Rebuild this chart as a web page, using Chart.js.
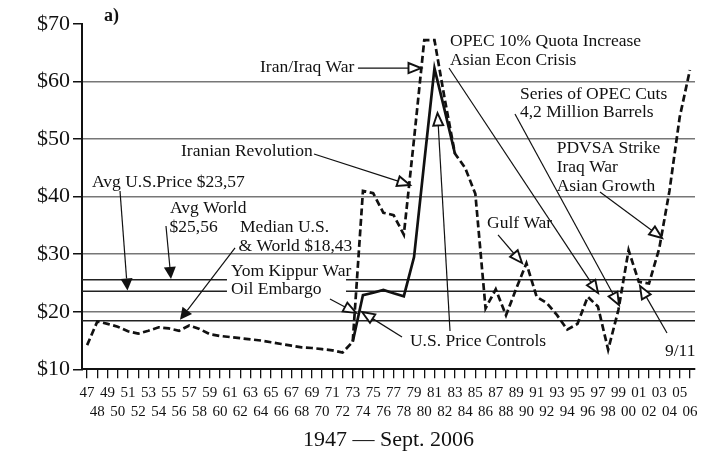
<!DOCTYPE html>
<html>
<head>
<meta charset="utf-8">
<script src="https://cdn.jsdelivr.net/npm/chart.js@4.4.1/dist/chart.umd.min.js"></script>
<style>
  html, body { margin: 0; padding: 0; background: #fff; }
  canvas { display: block; }
</style>
</head>
<body>
<canvas id="c" width="703" height="451" style="width:703px;height:451px"></canvas>
<script>
// ---------------- DATA ----------------
const yearLabels = ['47','48','49','50','51','52','53','54','55','56',
                    '57','58','59','60','61','62','63','64','65','66',
                    '67','68','69','70','71','72','73','74','75','76',
                    '77','78','79','80','81','82','83','84','85','86',
                    '87','88','89','90','91','92','93','94','95','96',
                    '97','98','99','00','01','02','03','04','05','06'];

// World price (dashed line), dollars
const worldPrice = [14.2, 18.3, 17.9, 17.4, 16.6, 16.2, 16.7, 17.3, 17.1, 16.7,
                    17.6, 17.0, 16.1, 15.8, 15.6, 15.4, 15.2, 15.0, 14.7, 14.4,
                    14.1, 13.8, 13.7, 13.5, 13.3, 12.9, 14.8, 41.0, 40.6, 37.2,
                    36.8, 33.4, 50.0, 67.2, 67.2, 57.0, 47.5, 45.0, 40.5, 20.6,
                    23.9, 19.4, 24.0, 28.4, 22.6, 21.5, 19.4, 16.9, 17.9, 22.6,
                    20.9, 13.4, 20.3, 30.7, 25.2, 24.9, 31.0, 41.0, 53.8, 62.0];

// U.S. price (solid line) where it departs from the world price
const usPrice = [null, null, null, null, null, null, null, null, null, null,
                 null, null, null, null, null, null, null, null, null, null,
                 null, null, null, null, null, null, 14.8, 22.9, 23.3, 23.8,
                 23.2, 22.7, 29.5, 46.0, 62.3, 55.0, 47.5, null, null, null,
                 null, null, null, null, null, null, null, null, null, null,
                 null, null, null, null, null, null, null, null, null, null];

// Avg World $25,56 ; Avg U.S. $23,57 ; Median $18,43
const referenceLines = [25.56, 23.57, 18.43];

const yMin = 10, yMax = 70, yStep = 10;
const xTitle = '1947 \u2014 Sept. 2006';
const panelLabel = 'a)';

// ---------------- ANNOTATIONS (in year-index / price units) ----------------
const noteTexts = [
  { t: 'Iran/Iraq War',            i: 16.92, v: 62.40 },
  { t: 'OPEC 10% Quota Increase',  i: 35.52, v: 67.05 },
  { t: 'Asian Econ Crisis',        i: 35.52, v: 63.75 },
  { t: 'Series of OPEC Cuts',      i: 42.37, v: 57.78 },
  { t: '4,2 Million Barrels',      i: 42.37, v: 54.59 },
  { t: 'PDVSA Strike',             i: 45.96, v: 48.45 },
  { t: 'Iraq War',                 i: 45.96, v: 45.07 },
  { t: 'Asian Growth',             i: 45.96, v: 41.85 },
  { t: 'Iranian Revolution',       i: 9.19,  v: 47.93 },
  { t: 'Avg U.S.Price $23,57',     i: 0.48,  v: 42.45 },
  { t: 'Avg World',                i: 8.11,  v: 37.94 },
  { t: '$25,56',                   i: 8.07,  v: 34.64 },
  { t: 'Median U.S.',              i: 14.97, v: 34.64 },
  { t: '& World $18,43',           i: 14.82, v: 31.34 },
  { t: 'Yom Kippur War',           i: 14.08, v: 26.96 },
  { t: 'Oil Embargo',              i: 14.08, v: 23.90 },
  { t: 'Gulf War',                 i: 39.14, v: 35.42 },
  { t: 'U.S. Price Controls',      i: 31.60, v: 14.83 },
  { t: '9/11',                     i: 56.56, v: 13.18 }
];
const noteArrows = [
  { f: [26.51, 62.35], to: [32.68, 62.35], h: 'open' },   // Iran/Iraq War
  { f: [35.42, 62.35], to: [50.01, 23.26], h: 'open' },   // OPEC quota
  { f: [41.88, 54.36], to: [52.06, 21.17], h: 'open' },   // OPEC cuts
  { f: [50.20, 40.81], to: [56.27, 32.82], h: 'open' },   // PDVSA
  { f: [40.22, 33.34], to: [42.57, 28.47], h: 'open' },   // Gulf War
  { f: [56.76, 16.31], to: [54.12, 24.47], h: 'open' },   // 9/11
  { f: [30.82, 15.61], to: [26.91, 19.96], h: 'open' },   // Price controls 1
  { f: [35.52, 16.65], to: [34.30, 54.53], h: 'open' },   // Price controls 2
  { f: [22.21, 47.41], to: [31.60, 42.02], h: 'open' },   // Iranian revolution
  { f: [23.77, 22.22], to: [26.32, 19.80], h: 'open' },   // Yom Kippur
  { f: [3.22, 40.98],  to: [3.95, 23.70],  h: 'filled' }, // Avg US
  { f: [7.72, 34.90],  to: [8.21, 25.70],  h: 'filled' }, // Avg World
  { f: [14.48, 31.08], to: [9.09, 18.60],  h: 'filled' }  // Median
];
const labelBox = { i1: 13.69, i2: 25.34, v1: 28.64, v2: 22.22 };

// ---------------- CHART ----------------
const FONT = '"Liberation Serif", "Times New Roman", serif';
Chart.defaults.font.family = FONT;
Chart.defaults.color = '#111';

function drawArrow(ctx, x1, y1, x2, y2, head) {
  const ang = Math.atan2(y2 - y1, x2 - x1);
  const len = head === 'filled' ? 12 : 12.5;
  const hw = head === 'filled' ? 6 : 5;
  const bx = x2 - len * Math.cos(ang), by = y2 - len * Math.sin(ang);
  ctx.beginPath();
  ctx.moveTo(x1, y1); ctx.lineTo(bx, by);
  ctx.lineWidth = 1.2; ctx.strokeStyle = '#111'; ctx.stroke();
  const px = -Math.sin(ang) * hw, py = Math.cos(ang) * hw;
  ctx.beginPath();
  ctx.moveTo(x2, y2); ctx.lineTo(bx + px, by + py); ctx.lineTo(bx - px, by - py); ctx.closePath();
  if (head === 'filled') { ctx.fillStyle = '#111'; ctx.fill(); }
  else { ctx.fillStyle = '#fff'; ctx.fill(); ctx.lineWidth = 1.9; ctx.lineJoin = 'miter'; ctx.stroke(); }
}

const refPlugin = {
  id: 'refLines',
  beforeDatasetsDraw(chart) {
    const { ctx, chartArea: a, scales: { x, y } } = chart;
    ctx.save();
    ctx.strokeStyle = '#222';
    ctx.lineWidth = 1.6;
    referenceLines.forEach(v => {
      const py = y.getPixelForValue(v);
      ctx.beginPath(); ctx.moveTo(a.left, py); ctx.lineTo(a.right, py); ctx.stroke();
    });
    const x1 = x.getPixelForValue(labelBox.i1), x2 = x.getPixelForValue(labelBox.i2);
    const y1 = y.getPixelForValue(labelBox.v1), y2 = y.getPixelForValue(labelBox.v2);
    ctx.fillStyle = '#fff';
    ctx.fillRect(x1, y1, x2 - x1, y2 - y1);
    ctx.restore();
  }
};

const notePlugin = {
  id: 'notes',
  afterDatasetsDraw(chart) {
    const { ctx, scales: { x, y } } = chart;
    ctx.save();
    noteArrows.forEach(a => {
      drawArrow(ctx, x.getPixelForValue(a.f[0]), y.getPixelForValue(a.f[1]),
                     x.getPixelForValue(a.to[0]), y.getPixelForValue(a.to[1]), a.h);
    });
    ctx.fillStyle = '#111';
    ctx.textAlign = 'left';
    ctx.textBaseline = 'middle';
    ctx.font = '17.5px ' + FONT;
    noteTexts.forEach(n => {
      ctx.fillText(n.t, x.getPixelForValue(n.i), y.getPixelForValue(n.v));
    });
    ctx.font = 'bold 18px ' + FONT;
    ctx.fillText(panelLabel, x.getPixelForValue(1.65), y.getPixelForValue(71.39));
    ctx.restore();
  }
};

new Chart(document.getElementById('c'), {
  type: 'line',
  data: {
    labels: yearLabels,
    datasets: [
      {
        label: 'World',
        data: worldPrice,
        borderColor: '#111',
        borderWidth: 2.7,
        borderDash: [7, 3.5],
        borderCapStyle: 'butt',
        pointRadius: 0,
        tension: 0,
        fill: false
      },
      {
        label: 'U.S.',
        data: usPrice,
        borderColor: '#111',
        borderWidth: 2.7,
        pointRadius: 0,
        tension: 0,
        fill: false,
        spanGaps: false
      }
    ]
  },
  options: {
    responsive: false,
    animation: false,
    devicePixelRatio: 1,
    layout: { padding: { left: 0, right: 8, top: 24, bottom: 0 } },
    plugins: { legend: { display: false }, tooltip: { enabled: false } },
    scales: {
      x: {
        type: 'category',
        offset: true,
        grid: {
          offset: false,
          drawOnChartArea: false,
          drawTicks: true,
          tickLength: 9,
          color: '#111',
          tickColor: '#111',
          lineWidth: 1.3
        },
        border: { display: true, color: '#111', width: 2 },
        ticks: {
          autoSkip: false,
          maxRotation: 0,
          minRotation: 0,
          padding: 5,
          color: '#111',
          font: { size: 15, family: FONT, lineHeight: 1.27 },
          callback: function (v, i) {
            const lab = this.getLabelForValue(v);
            return i % 2 === 0 ? [lab, ''] : ['', lab];
          }
        },
        title: {
          display: true,
          text: xTitle,
          color: '#111',
          font: { size: 22, family: FONT, lineHeight: 1 },
          padding: { top: 0, bottom: 0 }
        },
        afterFit: s => { s.height = 81.7; }
      },
      y: {
        min: yMin,
        max: yMax,
        grid: {
          color: c => (c.tick.value === yMax || c.tick.value === yMin) ? 'rgba(0,0,0,0)' : '#777',
          tickColor: '#111',
          tickLength: 9,
          lineWidth: 1.5
        },
        border: { display: true, color: '#111', width: 2 },
        ticks: {
          stepSize: yStep,
          padding: 3,
          color: '#111',
          font: { size: 22, family: FONT },
          callback: v => '$' + v
        },
        afterFit: s => { s.width = 82; }
      }
    }
  },
  plugins: [refPlugin, notePlugin]
});
</script>
</body>
</html>
